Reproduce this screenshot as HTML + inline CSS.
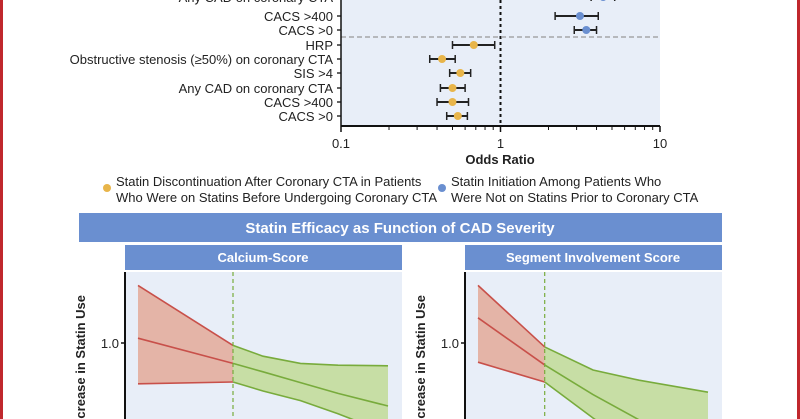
<!DOCTYPE html>
<html><head><meta charset="utf-8"><style>
body{margin:0;width:800px;height:419px;overflow:hidden;background:#fff;font-family:"Liberation Sans Narrow","Liberation Sans",sans-serif;}
svg{display:block}
</style></head><body>
<svg id="s" width="800" height="419" xmlns="http://www.w3.org/2000/svg">
<rect x="0" y="0" width="3" height="419" fill="#c0272d"/>
<rect x="797" y="0" width="3" height="419" fill="#c0272d"/>
<rect x="341" y="0" width="319" height="126" fill="#e8eef8"/>
<g id="forest"></g>
<text x="500" y="164" text-anchor="middle" font-size="13" font-weight="bold" fill="#222">Odds Ratio</text>
<circle cx="107" cy="188" r="4" fill="#e8b54a"/>
<text x="116" y="186" font-size="13" fill="#222"><tspan x="116">Statin Discontinuation After Coronary CTA in Patients</tspan><tspan x="116" dy="16">Who Were on Statins Before Undergoing Coronary CTA</tspan></text>
<circle cx="442" cy="188" r="4" fill="#6a8fd0"/>
<text x="451" y="186" font-size="13" fill="#222"><tspan x="451">Statin Initiation Among Patients Who</tspan><tspan x="451" dy="16">Were Not on Statins Prior to Coronary CTA</tspan></text>
<rect x="79" y="213" width="643" height="29" fill="#6a8fd0"/>
<text x="400" y="233" text-anchor="middle" font-size="15" font-weight="bold" fill="#fff">Statin Efficacy as Function of CAD Severity</text>
<rect x="125" y="245" width="277" height="25" fill="#6a8fd0"/>
<text x="263" y="262" text-anchor="middle" font-size="13" font-weight="bold" fill="#fff">Calcium-Score</text>
<rect x="465" y="245" width="257" height="25" fill="#6a8fd0"/>
<text x="593" y="262" text-anchor="middle" font-size="13" font-weight="bold" fill="#fff">Segment Involvement Score</text>
<g id="panels"></g>
</svg>
<script>
// forest plot data
const labels=["Any CAD on coronary CTA","CACS >400","CACS >0","HRP","Obstructive stenosis (≥50%) on coronary CTA","SIS >4","Any CAD on coronary CTA","CACS >400","CACS >0"];
const rowY=[-3,16,30,45,59,73,88,102,116];
const orVals=[4.4,3.15,3.45,0.68,0.43,0.56,0.5,0.5,0.54];
const ciLow=[3.7,2.2,2.9,0.5,0.36,0.48,0.42,0.4,0.46];
const ciHigh=[5.2,4.1,4.0,0.92,0.52,0.65,0.6,0.63,0.62];
const group=["b","b","b","o","o","o","o","o","o"];
const xTicks=[0.1,1,10];
const xTickLabels=["0.1","1","10"];
// spline panel data
const calX=[0,3.8,5,6.5,8,10];
const calUpper=[1.48,0.98,0.89,0.83,0.815,0.81];
const calMid=[1.04,0.83,0.76,0.67,0.58,0.475];
const calLower=[0.66,0.675,0.6,0.52,0.41,0.25];
const sisX=[0,2.9,5,7,10];
const sisUpper=[1.48,0.967,0.775,0.69,0.59];
const sisMid=[1.21,0.817,0.57,0.36,0.02];
const sisLower=[0.84,0.675,0.375,0.11,-0.1];
const yTicks=[1.0];

const NS="http://www.w3.org/2000/svg";
function mk(t,a,p){const e=document.createElementNS(NS,t);for(const k in a)e.setAttribute(k,a[k]);p.appendChild(e);return e;}
const fx=v=>341+Math.log10(v/0.1)*159.5;
const F=document.getElementById('forest');
// ref line & separator
let l=mk('line',{x1:fx(1),x2:fx(1),y1:0,y2:126,stroke:'#111','stroke-width':2,'stroke-dasharray':'3,3'},F);


l=mk('line',{x1:341,x2:660,y1:37,y2:37,stroke:'#999','stroke-width':1.3,'stroke-dasharray':'5,3'},F);


l=mk('line',{x1:341,x2:660,y1:126,y2:126,stroke:'#111','stroke-width':2},F);


l=mk('line',{x1:341,x2:341,y1:0,y2:126,stroke:'#111','stroke-width':1.5},F);


for(let d=0.1;d<10;d*=10){for(let m=2;m<10;m++){const t=mk('line',{x1:fx(d*m),x2:fx(d*m),y1:126,y2:130,stroke:'#111','stroke-width':1},F);

}}
xTicks.forEach((v,i)=>{const t=mk('line',{x1:fx(v),x2:fx(v),y1:126,y2:132,stroke:'#111','stroke-width':1.5},F);


const tx=mk('text',{x:fx(v),y:148,'text-anchor':'middle','font-size':13,fill:'#222'},F);tx.textContent=xTickLabels[i];

});
labels.forEach((lab,i)=>{const y=rowY[i];
const t=mk('text',{x:333,y:y+5,'text-anchor':'end','font-size':13,fill:'#222'},F);t.textContent=lab;


const tk=mk('line',{x1:337,x2:341,y1:y,y2:y,stroke:'#111','stroke-width':1.3},F);


const g=mk('g',{},F);


mk('line',{x1:fx(ciLow[i]),x2:fx(ciHigh[i]),y1:y,y2:y,stroke:'#222','stroke-width':2},g);
mk('line',{x1:fx(ciLow[i]),x2:fx(ciLow[i]),y1:y-4,y2:y+4,stroke:'#222','stroke-width':1.5},g);
mk('line',{x1:fx(ciHigh[i]),x2:fx(ciHigh[i]),y1:y-4,y2:y+4,stroke:'#222','stroke-width':1.5},g);
const c=mk('circle',{cx:fx(orVals[i]),cy:y,r:4,fill:group[i]=='b'?'#6a8fd0':'#e8b54a'},F);

});

const P=document.getElementById('panels');
function panel(name,x0,x1,px0,pxStep,xs,up,mid,lo,cut){
 const g=mk('g',{},P);
 
 
 const bg=mk('rect',{x:x0,y:272,width:x1-x0,height:147,fill:'#e8eef8'},g);
 
 
 const X=v=>px0+v*pxStep, Y=v=>343-(v-1)*120;
 const cid=name+'-clip';const cp=mk('clipPath',{id:cid},g);mk('rect',{x:x0,y:272,width:x1-x0,height:147},cp);
 const cg=mk('g',{'clip-path':'url(#'+cid+')'},g);
 const seg=(a,b,arr)=>arr.slice(a,b+1).map((v,k)=>X(xs[a+k])+','+Y(v));
 const band=(a,b,fill,stroke,nm)=>{
  const pts=seg(a,b,up).concat(seg(a,b,lo).reverse());
  const p=mk('polygon',{points:pts.join(' '),fill:fill,'fill-opacity':0.75},cg);
  
  
  [up,mid,lo].forEach(arr=>{const q=mk('polyline',{points:seg(a,b,arr).join(' '),fill:'none',stroke:stroke,'stroke-width':1.6},cg);
  
  });
 };
 band(0,cut,'#e3a08c','#c8504a','nonsignificant');
 band(cut,xs.length-1,'#bcd88a','#78ab3c','significant');
 const d=mk('line',{x1:X(xs[cut]),x2:X(xs[cut]),y1:272,y2:419,stroke:'#78ab3c','stroke-width':1.2,'stroke-dasharray':'4,3'},g);
 
 
 const ax=mk('line',{x1:x0,x2:x0,y1:272,y2:419,stroke:'#111','stroke-width':2},g);
 
 
 yTicks.forEach(v=>{const t=mk('line',{x1:x0-4,x2:x0,y1:Y(v),y2:Y(v),stroke:'#111','stroke-width':1.5},g);
 
 
 const tx=mk('text',{x:x0-6,y:Y(v)+5,'text-anchor':'end','font-size':13,fill:'#222'},g);tx.textContent=v.toFixed(1);
 
 });
 const tt=mk('text',{x:0,y:0,'font-size':13,'font-weight':'bold',fill:'#222','font-family':'Liberation Sans, sans-serif',transform:'translate('+(x0-40)+',295) rotate(-90)','text-anchor':'end'},g);
 tt.textContent='Increase in Statin Use';
 
 
}
panel('calcium-score-panel',125,402,138,25,calX,calUpper,calMid,calLower,1);
panel('sis-panel',465,722,478,23,sisX,sisUpper,sisMid,sisLower,1);
</script>
</body></html>
